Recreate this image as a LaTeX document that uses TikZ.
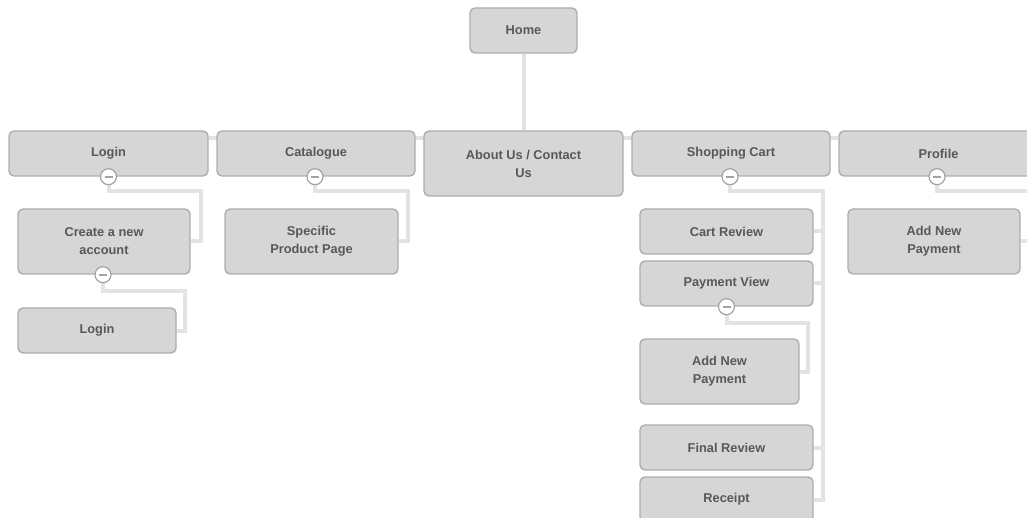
\documentclass[tikz,border=0pt]{standalone}
\usepackage{fontspec}
\setmainfont{Liberation Sans}
\usetikzlibrary{backgrounds,calc}
\definecolor{boxfill}{HTML}{D6D6D6}
\definecolor{boxline}{HTML}{ADADAD}
\definecolor{txt}{HTML}{585858}
\definecolor{connc}{HTML}{E3E3E3}
\definecolor{expline}{HTML}{A3A3A3}
\tikzset{
  pagebox/.style={draw=boxline, fill=boxfill, line width=1.4pt, rounded corners=5pt,
    text=txt, font=\fontsize{12.8}{18}\selectfont\bfseries, align=center, inner sep=0pt},
  pb/.style 2 args={pagebox, minimum width=#1pt, minimum height=#2pt},
  expander/.style={circle, draw=expline, fill=white, line width=1.2pt, minimum size=16pt, inner sep=0pt,
    path picture={\draw[expline, line width=2pt]
      ($(path picture bounding box.center)+(-4,0)$) -- ($(path picture bounding box.center)+(4,0)$);}},
  connector/.style={draw=connc, line width=4pt}
}
\begin{document}
\begin{tikzpicture}[x=1pt,y=-1pt]
\useasboundingbox (0,0) rectangle (1027,518);
\clip (0,0) rectangle (1027,518);
% top level
\node[pb={107}{45}] (home) at (523.5,30.5) {Home};
\node[pb={199}{45}] (login) at (108.5,153.5) {Login};
\node[pb={198}{45}] (cat) at (316,153.5) {Catalogue};
\node[pb={199}{65}] (about) at (523.5,163.5) {About Us / Contact\\Us};
\node[pb={198}{45}] (cart) at (731,153.5) {Shopping Cart};
\node[pb={199}{45}] (profile) at (938.5,153.5) {Profile};
% children
\node[pb={172}{65}] (create) at (104,241.5) {Create a new\\account};
\node[pb={158}{45}] (login2) at (97,330.5) {Login};
\node[pb={173}{65}] (spec) at (311.5,241.5) {Specific\\Product Page};
\node[pb={173}{45}] (review) at (726.5,231.5) {Cart Review};
\node[pb={173}{45}] (payview) at (726.5,283.5) {Payment View};
\node[pb={159}{65}] (addpay) at (719.5,371.5) {Add New\\Payment};
\node[pb={173}{45}] (final) at (726.5,447.5) {Final Review};
\node[pb={173}{45}] (receipt) at (726.5,499.5) {Receipt};
\node[pb={172}{65}] (addpay2) at (934,241.5) {Add New\\Payment};
% expanders
\node[expander] (xlogin) at (login.south) {};
\node[expander] (xcreate) at ([xshift=-1pt]create.south) {};
\node[expander] (xcat) at ([xshift=-1pt]cat.south) {};
\node[expander] (xcart) at ([xshift=-1pt]cart.south) {};
\node[expander] (xpay) at (payview.south) {};
\node[expander] (xprof) at ([xshift=-1.5pt]profile.south) {};
% connectors
\begin{pgfonlayer}{background}
\clip (0,0) rectangle (1027,518);
\draw[connector] (home.south) -- (about.north);
\draw[connector] ([yshift=-8pt]login.north east) -- ([yshift=-8pt]profile.north west);
\draw[connector] (xlogin.center) -- ++(0,14) -| ($(create.east)+(10,0)$) -- (create.east);
\draw[connector] (xcreate.center) -- ++(0,16) -| ($(login2.east)+(8,0)$) -- (login2.east);
\draw[connector] (xcat.center) -- ++(0,14) -| ($(spec.east)+(9,0)$) -- (spec.east);
\draw[connector] (xcart.center) -- ++(0,14) -| ($(receipt.east)+(9,0)$) -- (receipt.east);
\draw[connector] (review.east) -- ++(9,0);
\draw[connector] (payview.east) -- ++(9,0);
\draw[connector] (final.east) -- ++(9,0);
\draw[connector] (xpay.center) -- ++(0,16) -| ($(addpay.east)+(8,0)$) -- (addpay.east);
\draw[connector] (xprof.center) -- ++(0,14) -| ($(addpay2.east)+(9,0)$) -- (addpay2.east);
\end{pgfonlayer}
\end{tikzpicture}
\end{document}
